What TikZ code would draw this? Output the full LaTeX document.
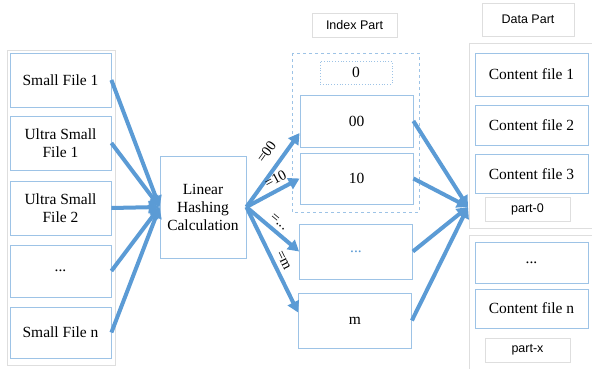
\documentclass[tikz,border=0pt]{standalone}
\usepackage{fontspec}
\setmainfont{Liberation Serif}
\newfontfamily\headfont{Liberation Sans}
\usetikzlibrary{arrows.meta}
\definecolor{boxblue}{RGB}{157,195,230}
\definecolor{arrowblue}{RGB}{91,155,213}
\definecolor{panelgray}{RGB}{222,222,222}
\tikzset{
  filebox/.style={draw=boxblue, thick, fill=white, align=center, inner sep=2pt,
    font=\fontsize{15.5}{18}\selectfont},
  headbox/.style={draw=panelgray, fill=white, font=\headfont\fontsize{12.5}{14}\selectfont},
  panel/.style={draw=panelgray, thick},
  flow/.style={draw=arrowblue, line width=4pt, -{Triangle[length=11pt,width=12pt]}},
  hashlabel/.style={font=\fontsize{14.5}{16}\selectfont, sloped, inner sep=1pt}
}
\begin{document}
\begin{tikzpicture}[x=1pt,y=-1pt]
    \useasboundingbox (0,0) rectangle (592,369);
    %grey panels behind the boxes
    \draw[panel] (7,50) rectangle (115,365);
    \draw[panel] (469,43) -- (600,43) (469,43) -- (469,228) -- (600,228);
    \draw[panel] (469,235) -- (600,235) (469,235) -- (469,380);
    %small files on the left
    \node[filebox, minimum width=101pt, minimum height=54pt] (sf1) at (60.5,80) {Small File 1};
    \node[filebox, minimum width=101pt, minimum height=54pt] (us1) at (60.5,143) {Ultra Small\\File 1};
    \node[filebox, minimum width=101pt, minimum height=54pt] (us2) at (60.5,208) {Ultra Small\\File 2};
    \node[filebox, minimum width=101pt, minimum height=52pt] (sfd) at (60.5,271) {...};
    \node[filebox, minimum width=101pt, minimum height=51pt] (sfn) at (60.5,332.5) {Small File n};
    %hashing step
    \node[filebox, minimum width=86pt, minimum height=102pt] (lin) at (203,207) {Linear\\Hashing\\Calculation};
    %index part
    \node[headbox, minimum width=85pt, minimum height=24pt] (ihead) at (354.5,25) {Index Part};
    \draw[boxblue, thick, dashed] (292,53) rectangle (419,212);
    \node[filebox, dotted, minimum width=72pt, minimum height=23pt] (i0) at (356,72.5) {0};
    \node[filebox, minimum width=113pt, minimum height=52pt] (i00) at (356.5,121) {00};
    \node[filebox, minimum width=113pt, minimum height=51pt] (i10) at (356.5,178.5) {10};
    \node[filebox, minimum width=113pt, minimum height=55pt, text=arrowblue] (idots) at (356,251.5) {...};
    \node[filebox, minimum width=113pt, minimum height=55pt] (im) at (355,320.5) {m};
    %data part
    \node[headbox, minimum width=92pt, minimum height=33pt] (dhead) at (528,19.5) {Data Part};
    \node[filebox, minimum width=113pt, minimum height=43pt] (cf1) at (531.5,74.5) {Content file 1};
    \node[filebox, minimum width=113pt, minimum height=40pt] (cf2) at (531.5,125.5) {Content file 2};
    \node[filebox, minimum width=113pt, minimum height=39pt] (cf3) at (531.5,174) {Content file 3};
    \node[headbox, minimum width=85pt, minimum height=24pt] (p0) at (527.5,209) {part-0};
    \node[filebox, minimum width=113pt, minimum height=41pt] (cfd) at (531.5,262.5) {...};
    \node[filebox, minimum width=113pt, minimum height=39pt] (cfn) at (531.5,308.5) {Content file n};
    \node[headbox, minimum width=85pt, minimum height=24pt] (px) at (527.5,350) {part-x};
    \coordinate (hub) at (468,207);
    %arrows
    \foreach \f in {sf1,us1,us2,sfd,sfn}
        \draw[flow] (\f.east) -- (lin.west);
    \draw[flow] (lin.east) -- ([yshift=-12pt]i00.west) node[hashlabel, above=8pt, pos=.62] {=00};
    \draw[flow] (lin.east) -- (i10.west) node[hashlabel, above=3pt, pos=.64] {=10};
    \draw[flow] (lin.east) -- (idots.west) node[hashlabel, above=3pt, pos=.5] {=...};
    \draw[flow] (lin.east) -- ([yshift=8pt]im.west) node[hashlabel, above=3pt, pos=.55] {=m};
    \foreach \i in {i00,i10,idots,im}
        \draw[flow] (\i.east) -- (hub);
\end{tikzpicture}
\end{document}
